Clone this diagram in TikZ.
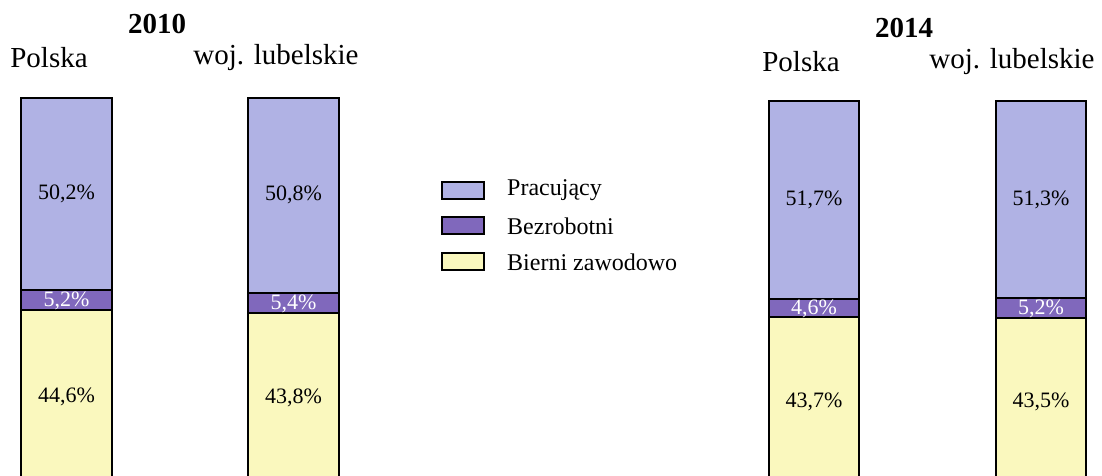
\documentclass[tikz,border=0pt]{standalone}
\usepackage{fontspec}
\setmainfont{Liberation Serif}
\definecolor{cprac}{RGB}{176,178,228}
\definecolor{cbez}{RGB}{128,104,188}
\definecolor{cbier}{RGB}{250,248,190}
\tikzset{
  seg/.style={draw=black, line width=2pt, inner sep=0pt, outer sep=0pt, anchor=north west},
  pct/.style={font=\fontsize{22}{22}\selectfont, inner sep=0pt},
  pctw/.style={font=\fontsize{22}{22}\selectfont, text=white, inner sep=0pt},
  ttl/.style={font=\fontsize{29}{29}\selectfont\bfseries, inner sep=0pt},
  grp/.style={font=\fontsize{29}{29}\selectfont, inner sep=0pt},
  legbox/.style={draw=black, line width=1.2pt, minimum width=42pt, minimum height=17pt, inner sep=0pt},
  legtxt/.style={font=\fontsize{24}{24}\selectfont, anchor=west, inner sep=0pt}
}
\newcommand{\barstack}[8]{% name, x1, x2, top, d1, d2, upper label, middle label
  \path[seg, fill=cprac] (#2,#4) rectangle (#3,#5);
  \path[seg, fill=cbez] (#2,#5) rectangle (#3,#6);
  \path[seg, fill=cbier] (#2,#6) rectangle (#3,485);
  \node[pct] (#1a) at ({(#2+#3)/2},{(#4+#5)/2}) {#7};
  \node[pctw] (#1b) at ({(#2+#3)/2},{(#5+#6)/2+1}) {#8};
}
\begin{document}
\begin{tikzpicture}[x=1pt,y=-1pt]
\useasboundingbox (0,0) rectangle (1102,475);
\clip (0,0) rectangle (1102,475);
\fill[white] (0,0) rectangle (1102,475);
% titles
\node[ttl] (t2010) at (157,24) {2010};
\node[grp] (p2010) at (49,58) {Polska};
\node[grp] (l2010) at (276,58) {woj. lubelskie};
\node[ttl] (t2014) at (904,28) {2014};
\node[grp] (p2014) at (801,62) {Polska};
\node[grp] (l2014) at (1012,62) {woj. lubelskie};
% bars 2010
\barstack{b1}{21}{112}{98}{290}{310}{50,2\%}{5,2\%}
\node[pct] (b1c) at (66.5,397) {44,6\%};
\barstack{b2}{248}{339}{98}{292.5}{312.5}{50,8\%}{5,4\%}
\node[pct] (b2c) at (293.5,398) {43,8\%};
% bars 2014
\barstack{b3}{769}{859}{101}{299}{317}{51,7\%}{4,6\%}
\node[pct] (b3c) at (814,402) {43,7\%};
\barstack{b4}{996}{1086}{101}{298}{317.5}{51,3\%}{5,2\%}
\node[pct] (b4c) at (1041,402) {43,5\%};
% legend
\node[legbox, fill=cprac] (lg1) at (463,190.5) {};
\node[legbox, fill=cbez] (lg2) at (463,225.5) {};
\node[legbox, fill=cbier] (lg3) at (463,261.5) {};
\node[legtxt] (lt1) at (507,190) {Pracujący};
\node[legtxt] (lt2) at (507,226) {Bezrobotni};
\node[legtxt] (lt3) at (507,262) {Bierni zawodowo};
\end{tikzpicture}
\end{document}
